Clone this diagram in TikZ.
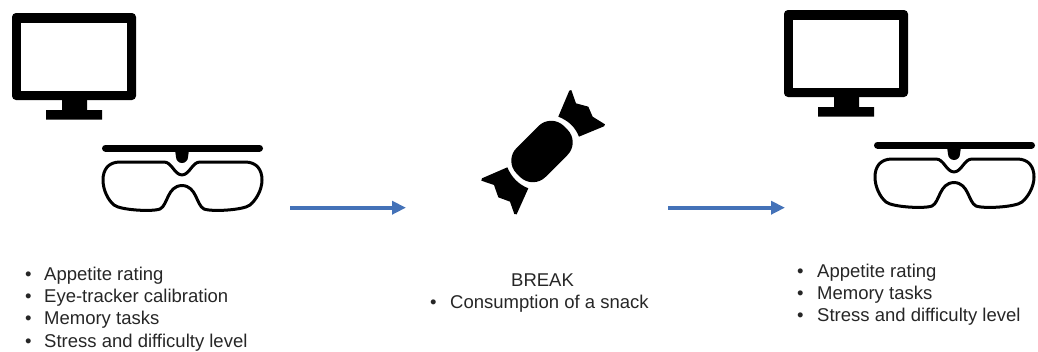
\documentclass[tikz,border=0pt]{standalone}
\usepackage{fontspec}
\setmainfont{Liberation Sans}
\usetikzlibrary{arrows.meta}
\definecolor{flowblue}{HTML}{4472B8}
\definecolor{inktext}{HTML}{262626}
\newcommand{\bul}{\makebox[19pt][l]{•}}
\tikzset{
  icon/.style={fill=black,draw=none},
  rimline/.style={draw=black,line width=3pt,line join=round,fill=none},
  listtext/.style={inktext,inner sep=0pt,align=left,font=\fontsize{18.5}{22.4}\selectfont},
  flowarrow/.style={draw=flowblue,line width=3.8pt,-{Triangle[length=14pt,width=13pt]}}
}
\newcommand{\screenicon}[2]{%
  \begin{scope}[shift={(#1,#2)}]
    \fill[icon,rounded corners=4pt] (12,13) rectangle (136,100);
    \fill[white] (21,23) rectangle (127,91);
    \fill[icon] (62,99) rectangle (87,111) (46,110) rectangle (102,119.5);
  \end{scope}}
\newcommand{\eyeicon}[2]{%
  \begin{scope}[shift={(#1,#2)}]
    \draw[black,line width=7pt,line cap=round] (105.5,148) -- (259.5,148);
    \fill[icon] (175,150) -- (189,150) -- (188,157) arc[start angle=0,end angle=-180,radius=6pt] -- cycle;
    \draw[rimline] (120,162) -- (164,162)
      .. controls (172,162) and (174,174.5) .. (182,175)
      .. controls (190,174.5) and (192,162) .. (200,162)
      -- (245,162) .. controls (257,162) and (262,170) .. (262,180)
      .. controls (262,190) and (256,200) .. (250,205)
      .. controls (244,210) and (212,212) .. (204,209)
      .. controls (196,205) and (197,186) .. (182,185.5)
      .. controls (167,186) and (168,205) .. (160,209)
      .. controls (152,212) and (120,210) .. (114,205)
      .. controls (108,200) and (103,190) .. (103,180)
      .. controls (103,170) and (108,162) .. (120,162) -- cycle;
  \end{scope}}
\begin{document}
\begin{tikzpicture}[x=1pt,y=-1pt]
\useasboundingbox (0,0) rectangle (1038,351);
\screenicon{0}{0}
\eyeicon{0}{0}
\screenicon{772}{-3}
\eyeicon{772}{-3}
% sweet
\begin{scope}[shift={(280,70)},x=0.3333pt,y=-0.3333pt]
  \fill[icon,line join=round] (835,140) -- (868,62) -- (874,60) -- (888,100) -- (925,110) -- (938,140) -- (975,163) -- (972,169) -- (897,200)
     .. controls (885,170) and (865,152) .. (835,140) -- cycle;
  \fill[icon,line join=round] (682,292) -- (606,325) -- (604,332) -- (642,345) -- (655,382) -- (690,395) -- (703,432) -- (710,433) -- (745,355)
     .. controls (715,343) and (695,322) .. (682,292) -- cycle;
\end{scope}
\node[icon,rotate=45,minimum width=67pt,minimum height=41pt,rounded corners=18pt,inner sep=0pt] (sweet) at (542,151.5) {};
\coordinate (a1) at (290,207.7);
\coordinate (a2) at (406,207.7);
\coordinate (b1) at (668,207.7);
\coordinate (b2) at (785,207.7);
\draw[flowarrow] (a1) -- (a2);
\draw[flowarrow] (b1) -- (b2);
\node[listtext,anchor=north west] (leftlist) at (25,266.5) {\bul Appetite rating\\\bul Eye-tracker calibration\\\bul Memory tasks\\\bul Stress and difficulty level};
\node[listtext,anchor=north west] (midlist) at (430,273.5) {\hspace{81pt}BREAK\\\makebox[20pt][l]{•}Consumption of a snack};
\node[listtext,anchor=north west] (rightlist) at (797,263.5) {\makebox[20pt][l]{•}Appetite rating\\\makebox[20pt][l]{•}Memory tasks\\\makebox[20pt][l]{•}Stress and difficulty level};
\end{tikzpicture}
\end{document}
